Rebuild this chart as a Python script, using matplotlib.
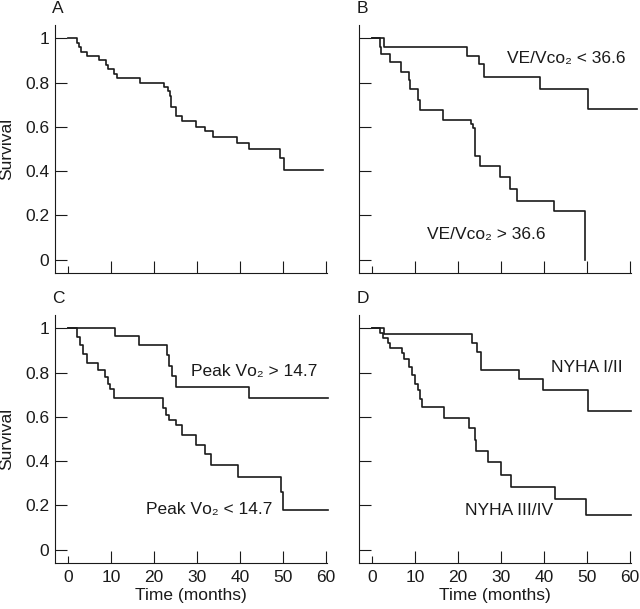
import matplotlib
matplotlib.use('Agg')
import matplotlib.pyplot as plt

plt.rcParams['font.family'] = ['Liberation Sans', 'DejaVu Sans']
plt.rcParams['font.size'] = 12.5

# Kaplan-Meier step data (event times in months, survival after the event)
a_time = [0, 2.0, 2.6, 3.1, 4.4, 7.3, 8.8, 9.2, 10.7, 11.5, 16.7, 22.3, 23.3, 23.7, 23.9,
          25.0, 26.6, 29.7, 31.9, 33.7, 39.3, 42.1, 49.2, 50.1]
a_surv = [1, 0.98, 0.96, 0.94, 0.92, 0.90, 0.88, 0.86, 0.84, 0.82, 0.80, 0.78, 0.76, 0.74, 0.69,
          0.65, 0.625, 0.60, 0.58, 0.555, 0.525, 0.50, 0.46, 0.405]
a_end = 59.2

b_high_time = [0, 2.9, 22.0, 24.9, 26.1, 39.1, 50.1]
b_high_surv = [1, 0.96, 0.92, 0.885, 0.824, 0.769, 0.68]
b_high_end = 61.5
b_low_time = [0, 1.8, 2.2, 4.2, 6.8, 8.6, 8.9, 10.7, 11.1, 16.6, 23.1, 23.5, 23.9, 25.1,
              29.7, 32.0, 33.8, 42.2, 49.4]
b_low_surv = [1, 0.96, 0.93, 0.895, 0.85, 0.81, 0.77, 0.72, 0.676, 0.633, 0.615, 0.593, 0.47,
              0.425, 0.374, 0.318, 0.265, 0.218, 0.0]
b_low_end = 49.4

c_high_time = [0, 11.0, 16.6, 23.0, 23.5, 24.2, 25.0, 42.1]
c_high_surv = [1, 0.967, 0.925, 0.88, 0.83, 0.785, 0.736, 0.684]
c_high_end = 60.4
c_low_time = [0, 2.2, 2.7, 3.4, 4.5, 7.1, 8.7, 9.3, 9.7, 10.7, 22.2, 22.8, 23.6, 25.1, 26.6,
              29.8, 31.8, 33.2, 39.6, 49.6, 50.0]
c_low_surv = [1, 0.96, 0.925, 0.885, 0.845, 0.81, 0.78, 0.75, 0.725, 0.684, 0.64, 0.61, 0.587,
              0.564, 0.519, 0.475, 0.43, 0.381, 0.33, 0.26, 0.178]
c_low_end = 60.4

d_high_time = [0, 2.7, 23.3, 24.4, 25.3, 34.1, 39.8, 50.3]
d_high_surv = [1, 0.973, 0.935, 0.895, 0.812, 0.769, 0.722, 0.625]
d_high_end = 60.2
d_low_time = [0, 1.9, 2.5, 3.7, 4.2, 6.9, 7.5, 8.7, 9.2, 9.9, 10.6, 11.2, 11.7, 16.7, 22.6,
              23.9, 24.3, 27.0, 30.0, 32.4, 42.6, 49.8]
d_low_surv = [1, 0.98, 0.958, 0.935, 0.913, 0.89, 0.86, 0.823, 0.79, 0.75, 0.72, 0.68, 0.643,
              0.595, 0.55, 0.497, 0.444, 0.395, 0.338, 0.282, 0.23, 0.155]
d_low_end = 60.2

x_ticks = [0, 10, 20, 30, 40, 50, 60]
y_ticks = [0, 0.2, 0.4, 0.6, 0.8, 1]
y_ticklabels = ['0', '0.2', '0.4', '0.6', '0.8', '1']

ink = '#1a1a1a'

fig = plt.figure(figsize=(6.4, 6.09), dpi=100)
w, h = 272 / 640, 248 / 609
ax_a = fig.add_axes([55 / 640, 336 / 609, w, h])
ax_b = fig.add_axes([359 / 640, 336 / 609, w, h])
ax_c = fig.add_axes([55 / 640, 46 / 609, w, h])
ax_d = fig.add_axes([359 / 640, 46 / 609, w, h])


def km(ax, t, s, end):
    ax.step(t + [end], s + [s[-1]], where='post', color=ink, lw=1.2, clip_on=False)


km(ax_a, a_time, a_surv, a_end)
km(ax_b, b_high_time, b_high_surv, b_high_end)
km(ax_b, b_low_time, b_low_surv, b_low_end)
km(ax_c, c_high_time, c_high_surv, c_high_end)
km(ax_c, c_low_time, c_low_surv, c_low_end)
km(ax_d, d_high_time, d_high_surv, d_high_end)
km(ax_d, d_low_time, d_low_surv, d_low_end)

for ax, letter in zip([ax_a, ax_b, ax_c, ax_d], 'ABCD'):
    ax.set_xlim(-3, 60.2)
    ax.set_ylim(-0.06, 1.06)
    ax.spines['top'].set_visible(False)
    ax.spines['right'].set_visible(False)
    for sp in ['left', 'bottom']:
        ax.spines[sp].set_linewidth(0.8)
        ax.spines[sp].set_color(ink)
    ax.set_xticks(x_ticks)
    ax.set_yticks(y_ticks)
    ax.tick_params(direction='in', length=8.5, width=0.8, color=ink, labelcolor=ink)
    ax.tick_params(axis='x', pad=5)
    ax.tick_params(axis='y', pad=4)
    ax.xaxis.get_major_ticks()[0].tick1line.set_markersize(5)
    ax.text(-0.01, 1.05, letter, transform=ax.transAxes, ha='left', va='baseline',
            fontsize=12.5, color=ink)

for ax in [ax_a, ax_c]:
    ax.set_yticklabels(y_ticklabels)
    ax.set_ylabel('Survival', labelpad=8, color=ink)
for ax in [ax_b, ax_d]:
    ax.set_yticklabels([])
for ax in [ax_a, ax_b]:
    ax.set_xticklabels([])
for ax in [ax_c, ax_d]:
    ax.set_xlabel('Time (months)', labelpad=2, color=ink)

ax_b.text(31.3, 0.91, 'VE/Vᴄᴏ₂ < 36.6', va='center', ha='left', color=ink)
ax_b.text(12.7, 0.115, 'VE/Vᴄᴏ₂ > 36.6', va='center', ha='left', color=ink)
ax_c.text(28.7, 0.807, 'Peak Vᴏ₂ > 14.7', va='center', ha='left', color=ink)
ax_c.text(18.1, 0.18, 'Peak Vᴏ₂ < 14.7', va='center', ha='left', color=ink)
ax_d.text(41.7, 0.824, 'NYHA I/II', va='center', ha='left', color=ink)
ax_d.text(21.6, 0.176, 'NYHA III/IV', va='center', ha='left', color=ink)

fig.savefig('out.png', dpi=100)
